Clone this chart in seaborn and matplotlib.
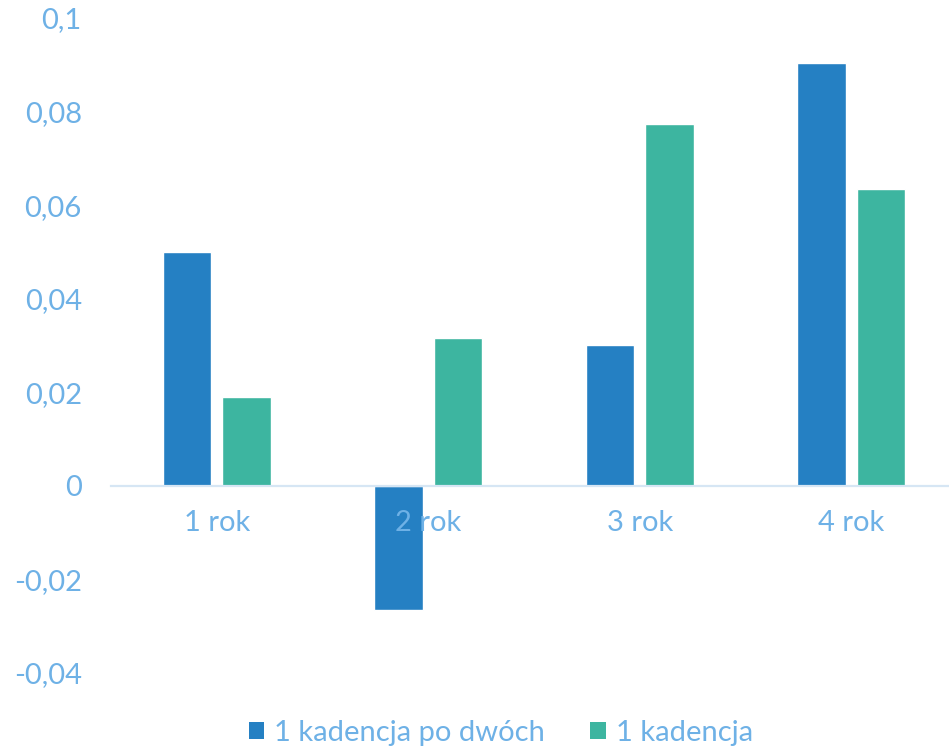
import matplotlib
matplotlib.use("Agg")
import matplotlib.pyplot as plt
import seaborn as sns
import pandas as pd
from matplotlib.patches import Patch

categories = ["1 rok", "2 rok", "3 rok", "4 rok"]
series_names = ["1 kadencja po dwóch", "1 kadencja"]
values_po_dwoch = [0.050, -0.0265, 0.0301, 0.0903]
values_kadencja = [0.019, 0.0316, 0.0773, 0.0635]
y_ticks = [-0.04, -0.02, 0, 0.02, 0.04, 0.06, 0.08, 0.1]
y_tick_labels = ["-0,04", "-0,02", "0", "0,02", "0,04", "0,06", "0,08", "0,1"]
colors = ["#2580c3", "#3db5a0"]

df = pd.DataFrame({
    "kat": categories * 2,
    "seria": [series_names[0]] * 4 + [series_names[1]] * 4,
    "val": values_po_dwoch + values_kadencja,
})

sns.set_theme(style="white")
plt.rcParams["font.family"] = ["Lato", "DejaVu Sans"]
text_color = "#6eb1e6"
fs = 21

fig = plt.figure(figsize=(9.49, 7.49), dpi=100)
ax = fig.add_axes([111 / 949, 1 - 673 / 749, 846 / 949, (673 - 18) / 749])

sns.barplot(data=df, x="kat", y="val", hue="seria", palette=colors,
            width=0.563, gap=0.193, saturation=1, ax=ax, legend=False)

ax.set_xlim(-0.5, 3.5)
ax.set_ylim(-0.04, 0.1)
ax.set_yticks(y_ticks)
ax.set_yticklabels(y_tick_labels)
ax.set_xlabel("")
ax.set_ylabel("")

for s in ["top", "right", "left"]:
    ax.spines[s].set_visible(False)
ax.spines["bottom"].set_position(("data", 0))
ax.spines["bottom"].set_color("#d6e6f4")
ax.spines["bottom"].set_linewidth(1.6)
ax.set_axisbelow(False)

ax.tick_params(axis="x", length=0, pad=17.5, labelsize=fs, labelcolor=text_color)
ax.tick_params(axis="y", length=0, pad=21, labelsize=fs, labelcolor=text_color)

handles = [Patch(facecolor=c, edgecolor="none") for c in colors]
leg = fig.legend(handles, series_names, loc="center",
                 bbox_to_anchor=(501 / 949, 1 - 733 / 749), ncol=2, frameon=False,
                 fontsize=fs, handlelength=0.52, handleheight=0.52, handletextpad=0.34,
                 columnspacing=1.55)
for t in leg.get_texts():
    t.set_color(text_color)

fig.savefig("out.png", dpi=100)
